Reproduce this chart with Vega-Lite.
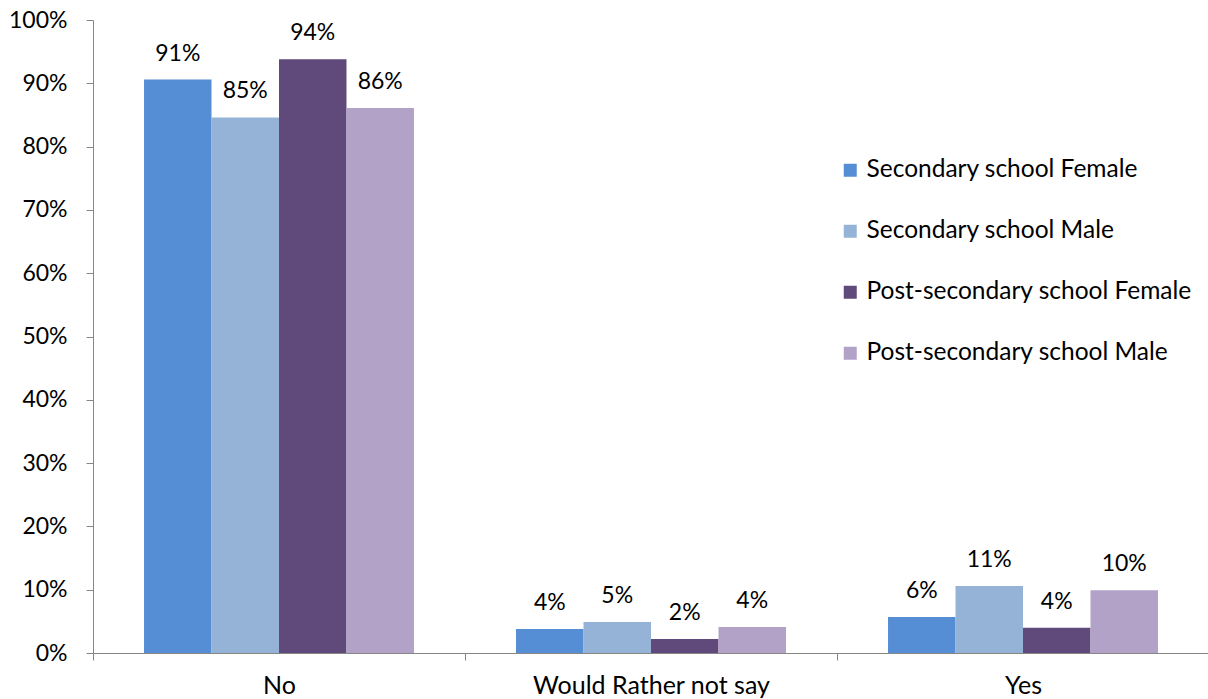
{
  "$schema": "https://vega.github.io/schema/vega-lite/v6.json",
  "width": 1116,
  "height": 633,
  "autosize": "none",
  "padding": {"left": 93, "top": 20, "right": 0, "bottom": 46},
  "background": "white",
  "config": {"view": {"stroke": null}, "font": "Lato", "text": {"font": "Lato"}},
  "data": {
    "values": [
      {"answer": "No", "group": "Secondary school Female", "value": 0.906},
      {"answer": "No", "group": "Secondary school Male", "value": 0.846},
      {"answer": "No", "group": "Post-secondary school Female", "value": 0.938},
      {"answer": "No", "group": "Post-secondary school Male", "value": 0.861},
      {"answer": "Would Rather not say", "group": "Secondary school Female", "value": 0.038},
      {"answer": "Would Rather not say", "group": "Secondary school Male", "value": 0.049},
      {"answer": "Would Rather not say", "group": "Post-secondary school Female", "value": 0.022},
      {"answer": "Would Rather not say", "group": "Post-secondary school Male", "value": 0.041},
      {"answer": "Yes", "group": "Secondary school Female", "value": 0.057},
      {"answer": "Yes", "group": "Secondary school Male", "value": 0.106},
      {"answer": "Yes", "group": "Post-secondary school Female", "value": 0.04},
      {"answer": "Yes", "group": "Post-secondary school Male", "value": 0.099}
    ]
  },
  "encoding": {
    "x": {
      "field": "answer",
      "type": "nominal",
      "sort": ["No", "Would Rather not say", "Yes"],
      "scale": {"paddingInner": 0, "paddingOuter": 0},
      "axis": {
        "title": null,
        "labelAngle": 0,
        "tickBand": "extent",
        "domainColor": "#868686",
        "tickColor": "#868686",
        "tickSize": 7,
        "labelFontSize": 25,
        "labelColor": "#000000",
        "labelPadding": 13,
        "labelLimit": 0,
        "grid": false
      }
    },
    "xOffset": {
      "field": "group",
      "type": "nominal",
      "sort": ["Secondary school Female", "Secondary school Male", "Post-secondary school Female", "Post-secondary school Male"],
      "scale": {"paddingInner": 0, "paddingOuter": 0.756}
    },
    "y": {
      "field": "value",
      "type": "quantitative",
      "scale": {"domain": [0, 1]},
      "axis": {
        "title": null,
        "format": ".0%",
        "values": [0, 0.1, 0.2, 0.3, 0.4, 0.5, 0.6, 0.7, 0.8, 0.9, 1],
        "grid": false,
        "domainColor": "#868686",
        "tickColor": "#868686",
        "tickSize": 7,
        "labelFontSize": 23,
        "labelColor": "#000000",
        "labelPadding": 19
      }
    }
  },
  "layer": [
    {
      "mark": {"type": "bar"},
      "encoding": {
        "color": {
          "field": "group",
          "type": "nominal",
          "sort": ["Secondary school Female", "Secondary school Male", "Post-secondary school Female", "Post-secondary school Male"],
          "scale": {
            "domain": ["Secondary school Female", "Secondary school Male", "Post-secondary school Female", "Post-secondary school Male"],
            "range": ["#558ED5", "#95B3D7", "#604A7B", "#B3A2C7"]
          },
          "legend": {
            "title": null,
            "orient": "none",
            "legendX": 745,
            "legendY": 138,
            "symbolType": "square",
            "symbolSize": 169,
            "symbolStrokeWidth": 0,
            "labelFontSize": 24.5,
            "labelColor": "#000000",
            "labelOffset": 4,
            "rowPadding": 36,
            "padding": 0,
            "labelLimit": 400
          }
        }
      }
    },
    {
      "mark": {"type": "text", "dy": -19, "baseline": "alphabetic", "fontSize": 23, "color": "#000000"},
      "encoding": {
        "text": {"field": "value", "type": "quantitative", "format": ".0%"}
      }
    }
  ]
}
